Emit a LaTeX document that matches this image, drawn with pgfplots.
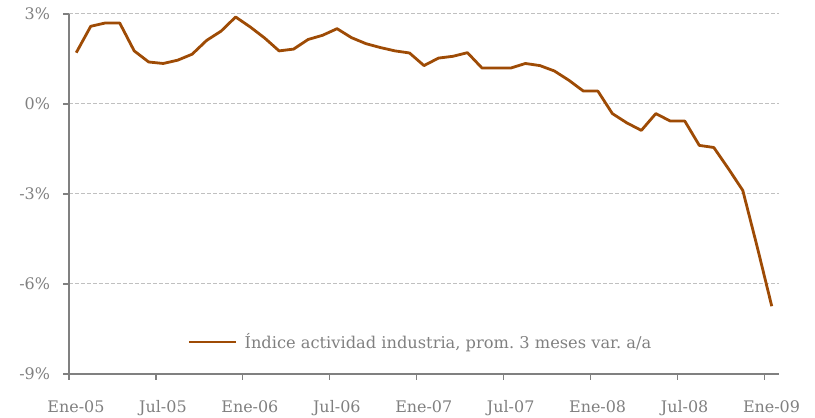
\documentclass[border=0pt]{standalone}
\usepackage{fontspec}
\setmainfont{DejaVu Serif}
\usepackage{pgfplots}
\pgfplotsset{compat=1.18}
\definecolor{linec}{RGB}{158,75,5}
\definecolor{axgray}{RGB}{128,128,128}
\definecolor{gridgray}{RGB}{192,192,192}
\definecolor{txtgray}{RGB}{128,128,128}
\begin{document}
\begin{tikzpicture}
\path[use as bounding box] (-69bp,-44bp) rectangle (746bp,374bp);
\begin{axis}[
  at={(0,0)}, anchor=south west,
  scale only axis, width=710bp, height=360bp,
  xmin=0, xmax=49, ymin=-9, ymax=3,
  axis lines*=left,
  axis line style={axgray, line width=1.4bp},
  xtick={0,6,...,48},
  xticklabels={Ene-05,Jul-05,Ene-06,Jul-06,Ene-07,Jul-07,Ene-08,Jul-08,Ene-09},
  xticklabel style={xshift=7bp, yshift=-17bp, text height=12bp, text depth=3bp},
  ytick={-9,-6,-3,0,3},
  yticklabels={-9\%,-6\%,-3\%,0\%,3\%},
  yticklabel style={xshift=-10bp},
  tick align=outside,
  major tick length=5.5bp,
  tick style={axgray, line width=1.2bp},
  ticklabel style={font=\fontsize{16}{19}\selectfont, text=txtgray},
  ymajorgrids,
  major grid style={gridgray, line width=1bp, dash pattern=on 4bp off 2bp},
  legend style={at={(0.1676,0.0889)}, anchor=west, draw=none, fill=none,
    inner sep=0pt, font=\fontsize{16.3}{19}\selectfont, text=txtgray},
  legend cell align=left,
  legend image code/.code={\draw[linec, line width=1.4bp] (0bp,0bp) -- (47bp,0bp);},
]
\addplot[linec, line width=2.8bp, line join=round] table {
x y
0.5 1.71
1.5 2.59
2.5 2.70
3.5 2.70
4.5 1.77
5.5 1.40
6.5 1.35
7.5 1.46
8.5 1.66
9.5 2.12
10.5 2.43
11.5 2.90
12.5 2.57
13.5 2.20
14.5 1.77
15.5 1.83
16.5 2.15
17.5 2.29
18.5 2.51
19.5 2.21
20.5 2.01
21.5 1.88
22.5 1.77
23.5 1.70
24.5 1.28
25.5 1.53
26.5 1.59
27.5 1.71
28.5 1.20
29.5 1.20
30.5 1.20
31.5 1.35
32.5 1.28
33.5 1.10
34.5 0.79
35.5 0.43
36.5 0.43
37.5 -0.32
38.5 -0.63
39.5 -0.88
40.5 -0.32
41.5 -0.57
42.5 -0.57
43.5 -1.38
44.5 -1.45
45.5 -2.15
46.5 -2.88
47.5 -4.77
48.5 -6.74
};
\addlegendentry{\hspace{6bp}Índice actividad industria, prom.\ 3 meses var.\ a/a}
\end{axis}
\end{tikzpicture}
\end{document}
